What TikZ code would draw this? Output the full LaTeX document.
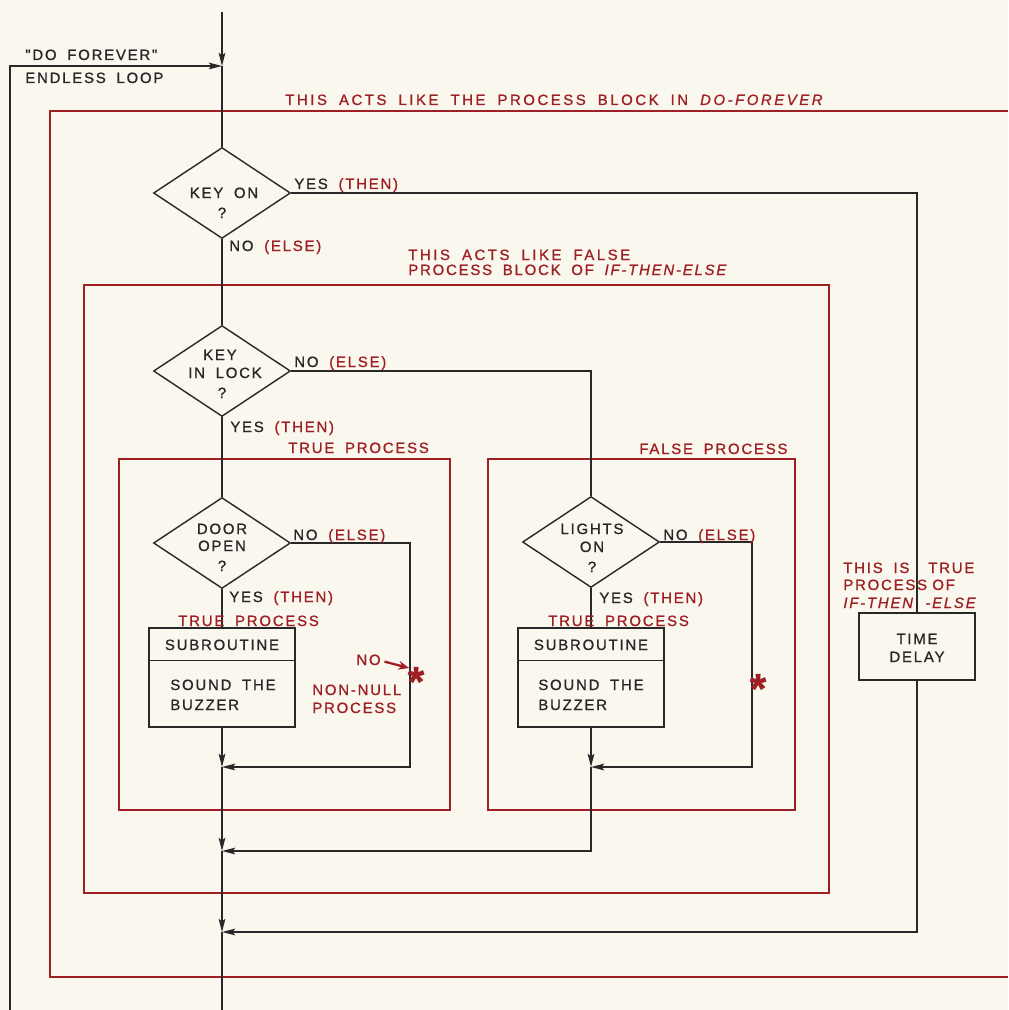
\documentclass[tikz,border=0pt]{standalone}
\usepackage{fontspec}
\setmainfont[LetterSpace=12,WordSpace=1.8,FakeBold=1]{Liberation Sans}
\newfontfamily\plainq[LetterSpace=12,WordSpace=1.8,FakeBold=1]{Liberation Sans}
\usetikzlibrary{shapes.geometric,arrows.meta}
\definecolor{bg}{RGB}{250,247,238}
\definecolor{rd}{RGB}{158,32,36}
\definecolor{ink}{RGB}{40,40,40}
\begin{document}
\begin{tikzpicture}[x=0.02cm,y=-0.02cm,
  font=\fontsize{8.5}{10}\selectfont,
  flow/.style={draw=ink,line width=0.8pt},
  arr/.style={flow,-{Stealth[length=7.5pt,width=3.8pt,inset=1.5pt]}},
  redframe/.style={draw=rd,line width=1.2pt},
  dia/.style={diamond,draw=ink,line width=0.8pt,minimum width=2.74cm,minimum height=1.82cm,inner sep=0pt},
  subbox/.style={rectangle,draw=ink,line width=0.8pt,minimum width=2.92cm,minimum height=1.98cm,inner sep=0pt},
  delaybox/.style={rectangle,draw=ink,line width=0.8pt,minimum width=2.32cm,minimum height=1.34cm,inner sep=0pt},
  lbl/.style={anchor=base west,inner sep=0pt,text=ink},
  rlbl/.style={lbl,text=rd},
  ctr/.style={anchor=base,inner sep=0pt,text=ink},
  astx/.style={anchor=base,inner sep=0pt,text=rd,font=\fontsize{24}{24}\selectfont\bfseries},
]
\fill[bg] (0,0) rectangle (1008,1010);
\useasboundingbox (0,0) rectangle (1008,1010);

% red process frames
\draw[redframe] (1008,111) -- (50,111) -- (50,977) -- (1008,977);
\draw[redframe] (84,285) rectangle (829,893);
\draw[redframe] (119,459) rectangle (450,810);
\draw[redframe] (488,459) rectangle (795,810);

% shapes
\node[dia] (keyon) at (222,193) {};
\node[dia] (keylock) at (222,371) {};
\node[dia] (door) at (222,543) {};
\node[dia] (lights) at (591,542) {};
\node[subbox] (sub1) at (222,677.5) {};
\node[subbox] (sub2) at (591,677.5) {};
\node[delaybox] (delay) at (917,646.5) {};
\draw[flow] ([yshift=-0.66cm]sub1.north west) -- ([yshift=-0.66cm]sub1.north east);
\draw[flow] ([yshift=-0.66cm]sub2.north west) -- ([yshift=-0.66cm]sub2.north east);

% coordinates
\coordinate (top) at (222,12);
\coordinate (j0) at (222,66);
\coordinate (loopend) at (10,1010);
\coordinate (c1) at (410,767);
\coordinate (m1) at (222,767);
\coordinate (c2) at (752,767);
\coordinate (n1) at (591,767);
\coordinate (m2) at (222,851);
\coordinate (m3) at (222,932);
\coordinate (bot) at (222,1010);

% connectors
\draw[arr] (top) -- (j0);
\draw[arr] (loopend) |- (j0);
\draw[flow] (j0) -- (keyon.north);
\draw[flow] (keyon.east) -| (delay.north);
\draw[flow] (keyon.south) -- (keylock.north);
\draw[flow] (keylock.east) -| (lights.north);
\draw[flow] (keylock.south) -- (door.north);
\draw[flow] (door.south) -- (sub1.north);
\draw[arr] (door.east) -| (c1) -- (m1);
\draw[arr] (sub1.south) -- (m1);
\draw[flow] (lights.south) -- (sub2.north);
\draw[arr] (lights.east) -| (c2) -- (n1);
\draw[arr] (sub2.south) -- (n1);
\draw[arr] (n1) |- (m2);
\draw[arr] (m1) -- (m2);
\draw[arr] (delay.south) |- (m3);
\draw[arr] (m2) -- (m3);
\draw[flow] (m3) -- (bot);

% texts in shapes
\node[ctr] (t1) at (224,198) {KEY ON};
\node[ctr] (t2) at (222,218) {?};
\node[ctr] (t3) at (220,360) {KEY};
\node[ctr] (t4) at (225,378) {IN LOCK};
\node[ctr] (t5) at (222,398) {?};
\node[ctr] (t6) at (222,534) {DOOR};
\node[ctr] (t7) at (222,551) {OPEN};
\node[ctr] (t8) at (222,571) {?};
\node[ctr] (t9) at (592,534) {LIGHTS};
\node[ctr] (t10) at (592,552) {ON};
\node[ctr] (t11) at (592,572) {?};
\node[ctr] (t12) at (222,650) {SUBROUTINE};
\node[lbl] (t13) at (170,690) {SOUND THE};
\node[lbl] (t14) at (170,710) {BUZZER};
\node[ctr] (t15) at (591,650) {SUBROUTINE};
\node[lbl] (t16) at (538,690) {SOUND THE};
\node[lbl] (t17) at (538,710) {BUZZER};
\node[ctr] (t18) at (917,644) {TIME};
\node[ctr] (t19) at (917,662) {DELAY};

% black / red labels
\node[lbl] (l1) at (25,60) {\plainq "DO FOREVER"};
\node[lbl] (l2) at (25,83) {ENDLESS LOOP};
\node[rlbl] (l3) at (285,105) {\addfontfeature{LetterSpace=17}THIS ACTS LIKE THE PROCESS BLOCK IN \textit{DO-FOREVER}};
\node[lbl] (l4) at (294,189) {YES \textcolor{rd}{(THEN)}};
\node[lbl] (l5) at (229,251) {NO \textcolor{rd}{(ELSE)}};
\node[rlbl] (l6) at (408,260) {\addfontfeature{LetterSpace=17}THIS ACTS LIKE FALSE};
\node[rlbl] (l7) at (408,275) {PROCESS BLOCK OF \textit{IF-THEN-ELSE}};
\node[lbl] (l8) at (294,367) {NO \textcolor{rd}{(ELSE)}};
\node[lbl] (l9) at (230,432) {YES \textcolor{rd}{(THEN)}};
\node[rlbl] (l10) at (288,453) {TRUE PROCESS};
\node[rlbl] (l11) at (639,454) {FALSE PROCESS};
\node[lbl] (l12) at (293,540) {NO \textcolor{rd}{(ELSE)}};
\node[lbl] (l13) at (229,602) {YES \textcolor{rd}{(THEN)}};
\node[rlbl] (l14) at (178,626) {TRUE PROCESS};
\node[lbl] (l15) at (663,540) {NO \textcolor{rd}{(ELSE)}};
\node[lbl] (l16) at (599,603) {YES \textcolor{rd}{(THEN)}};
\node[rlbl] (l17) at (548,626) {TRUE PROCESS};

% NO -> * annotation
\node[rlbl,anchor=base east] (no) at (381,665) {NO};
\coordinate (astp) at (409,668);
\draw[rd,line width=1.3pt,-{Stealth[length=6pt,width=5pt]}] (no.east) ++(2pt,-1pt) -- (astp);
\node[astx] (ast1) at (416,696) {*};
\node[rlbl] (l18) at (312,695) {NON-NULL};
\node[rlbl] (l19) at (312,713) {PROCESS};
\node[astx] (ast2) at (758,703) {*};

% time delay note
\node[rlbl] (l20) at (843,573) {THIS IS};
\node[rlbl] (l21) at (928,573) {TRUE};
\node[rlbl] (l22) at (843,590) {PROCESS};
\node[rlbl] (l23) at (932,590) {OF};
\node[rlbl] (l24) at (843,608) {\textit{IF-THEN}};
\node[rlbl] (l25) at (925,608) {\textit{-ELSE}};
\end{tikzpicture}
\end{document}
